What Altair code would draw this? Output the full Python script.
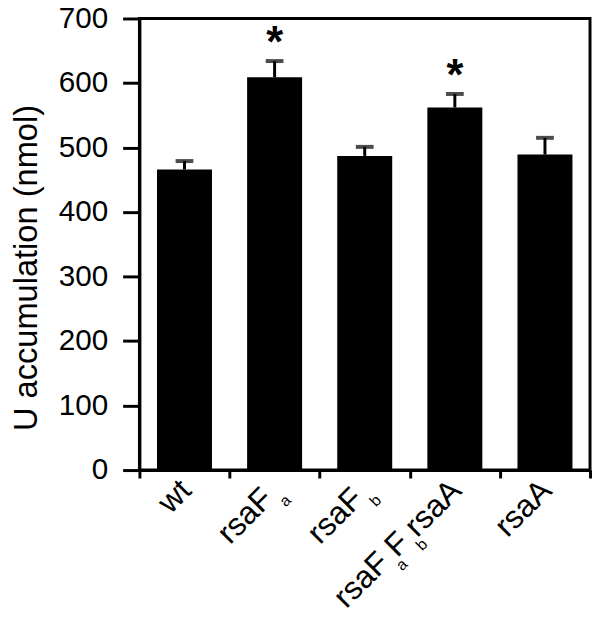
import altair as alt
import pandas as pd

# ---- data ----
CATEGORIES = ["wt", "rsaFa", "rsaFb", "rsaFaFbrsaA", "rsaA"]
MEANS = [466, 609, 487, 562, 489]
ERRORS = [13, 25, 14, 21, 26]
SIGNIF = ["", "*", "", "*", ""]
# label pieces: (text, is_subscript)
LABEL_PIECES = [
    [("wt", 0)],
    [("rsaF", 0), ("a", 1)],
    [("rsaF", 0), ("b", 1)],
    [("rsaF", 0), ("a", 1), ("F", 0), ("b", 1), ("rsaA", 0)],
    [("rsaA", 0)],
]
Y_TICKS = [0, 100, 200, 300, 400, 500, 600, 700]
Y_TITLE = "U accumulation (nmol)"

# ---- styling ----
FONT = "Liberation Sans"
MAIN_SIZE = 32
SUB_SIZE = 16
GAP_BEFORE_SUB = 3
SUB_ADVANCE = 6
END_OFFSET = 12
SUB_DROP = 13
LABEL_Y = 488  # baseline anchor, pixels below top of plot
# Arial/Liberation advance widths (units per 1000)
ADV = {"r": 333, "s": 500, "a": 556, "F": 611, "A": 667, "w": 722, "t": 278, "b": 556}


def text_width(s, size):
    return sum(ADV.get(c, 556) for c in s) / 1000.0 * size


rows = []
for cat, pieces in zip(CATEGORIES, LABEL_PIECES):
    pos = 0.0
    placed = []
    end = 0.0
    for i, (t, sub) in enumerate(pieces):
        if sub:
            pos += GAP_BEFORE_SUB
        start = pos
        w = text_width(t, SUB_SIZE if sub else MAIN_SIZE)
        end = max(end, start + w)
        pos += SUB_ADVANCE if sub else w
        placed.append((t, sub, start))
    for t, sub, start in placed:
        # offsets are applied in the rotated text frame
        rows.append(
            {
                "cat": cat,
                "text": t,
                "sub": sub,
                "dx": start - end + END_OFFSET,
                "dy": SUB_DROP if sub else 0,
            }
        )
label_df = pd.DataFrame(rows)

df = pd.DataFrame({"cat": CATEGORIES, "mean": MEANS, "err": ERRORS, "sig": SIGNIF})

x_scale = alt.Scale(domain=CATEGORIES, paddingInner=0, paddingOuter=0)
y_scale = alt.Scale(domain=[0, 700], nice=False)

x_enc = alt.X(
    "cat:N",
    sort=CATEGORIES,
    scale=x_scale,
    axis=alt.Axis(
        labels=False,
        title=None,
        tickBand="extent",
        tickSize=8,
        tickWidth=3,
        domainWidth=3,
        tickColor="black",
        domainColor="black",
        grid=False,
    ),
)
y_axis = alt.Axis(
    values=Y_TICKS,
    tickSize=17,
    tickWidth=3,
    domainWidth=3,
    tickColor="black",
    domainColor="black",
    labelFont=FONT,
    labelFontSize=30,
    labelColor="black",
    labelPadding=15,
    grid=False,
    title=Y_TITLE,
    titleFont=FONT,
    titleFontSize=33,
    titleFontWeight="normal",
    titleColor="black",
    titleAngle=270,
    titleBaseline="top",
    titleAlign="center",
    titleX=-130,
    titleY=252,
)

base = alt.Chart(df).transform_calculate(top="datum.mean + datum.err")
x_plain = alt.X("cat:N", sort=CATEGORIES, scale=x_scale)

bars = base.mark_bar(color="black", width=alt.RelativeBandSize(0.61)).encode(
    x=x_enc,
    y=alt.Y("mean:Q", scale=y_scale, axis=y_axis),
)

err_line = base.mark_rule(color="black", strokeWidth=3).encode(
    x=x_plain,
    y=alt.Y("mean:Q", scale=y_scale),
    y2="top:Q",
)

err_cap = base.mark_tick(color="black", size=18, thickness=4, orient="horizontal").encode(
    x=x_plain,
    y=alt.Y("top:Q", scale=y_scale),
)

stars = base.mark_text(
    font=FONT, fontWeight="bold", fontSize=44, baseline="alphabetic", color="black", dy=-4
).encode(
    x=x_plain,
    y=alt.Y("top:Q", scale=y_scale),
    text="sig:N",
)

lab = alt.Chart(label_df)
main_labels = lab.transform_filter("datum.sub == 0").mark_text(
    font=FONT,
    fontSize=MAIN_SIZE,
    angle=315,
    align="left",
    baseline="alphabetic",
    color="black",
    dx=alt.ExprRef("datum.dx"),
    dy=alt.ExprRef("datum.dy"),
).encode(
    x=x_plain,
    y=alt.value(LABEL_Y),
    text="text:N",
)
sub_labels = lab.transform_filter("datum.sub == 1").mark_text(
    font=FONT,
    fontSize=SUB_SIZE,
    angle=315,
    align="left",
    baseline="alphabetic",
    color="black",
    dx=alt.ExprRef("datum.dx"),
    dy=alt.ExprRef("datum.dy"),
).encode(
    x=x_plain,
    y=alt.value(LABEL_Y),
    text="text:N",
)

chart = (
    alt.layer(bars, err_line, err_cap, stars, main_labels, sub_labels)
    .properties(
        width=456,
        height=457,
        autosize=alt.AutoSizeParams(type="none"),
        padding={"left": 133, "top": 7, "right": 2, "bottom": 139},
    )
    .configure_view(stroke="black", strokeWidth=3)
)

chart.save("out.html", embed_options={"renderer": "svg", "actions": False})
